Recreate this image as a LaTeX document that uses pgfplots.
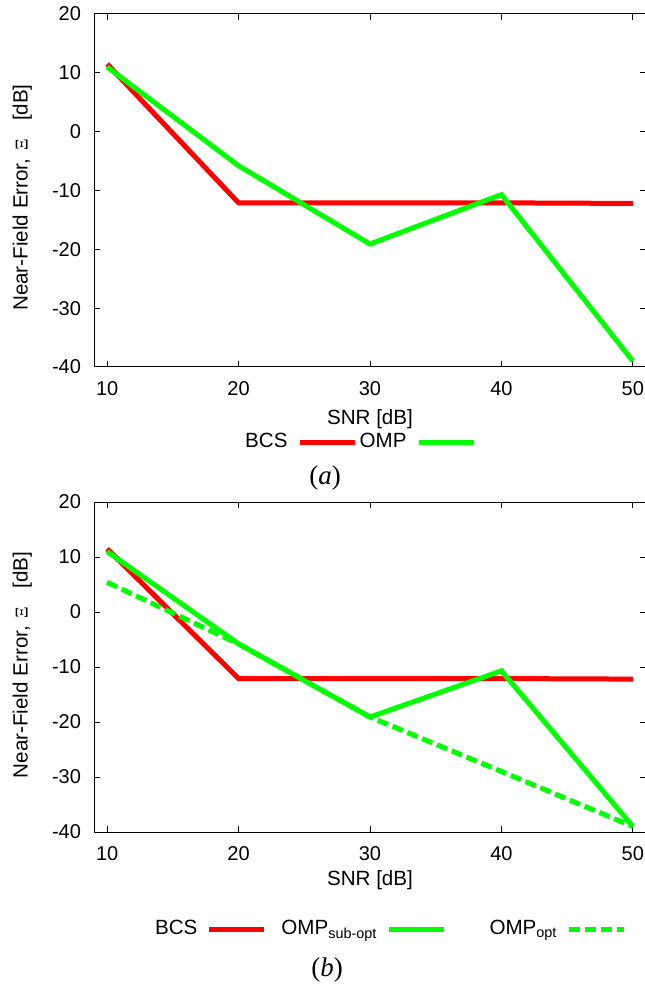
\documentclass[border=0pt]{standalone}
\usepackage{fontspec}
\setmainfont{Liberation Sans}
\newfontfamily\capfont{Liberation Serif}
\usepackage{pgfplots}
\pgfplotsset{compat=1.18}

\definecolor{bcsred}{RGB}{255,0,0}
\definecolor{ompgreen}{RGB}{0,255,0}

\newcommand{\tickfont}{\fontsize{10}{11}\selectfont}
\newcommand{\lblfont}{\fontsize{10.3}{11}\selectfont}
% y-axis title
\newcommand{\errlabel}{Near-Field Error,\hspace{4pt}{\capfont\fontsize{9}{10}\selectfont Ξ}\hspace{9pt}[dB]}
% right-aligned legend text followed by the gap before the sample line
\newcommand{\legtext}[2]{\makebox[#1][r]{#2\hspace{4.75pt}}}

\pgfplotsset{
  snrstyle/.style={
    scale only axis, width=276pt,
    xmin=9, xmax=51, ymin=-40, ymax=20,
    xtick={10,20,30,40,50}, ytick={-40,-30,-20,-10,0,10,20},
    tick align=inside, major tick length=3pt,
    axis line style={line width=0.5pt},
    every tick/.style={black, line width=0.5pt},
    /pgf/number format/assume math mode=true,
    tick label style={font=\tickfont},
    x tick label style={yshift=-3.5pt},
    y tick label style={xshift=-3pt},
    label style={font=\lblfont},
    xlabel={SNR [dB]},
    ylabel={\errlabel},
    legend plot pos=right, legend columns=-1,
    legend style={draw=none, fill=none, inner sep=0pt, outer sep=0pt,
      column sep=0pt, anchor=west, nodes={inner sep=0pt, font=\lblfont}},
    legend image code/.code={
      \draw[##1] (0pt,0pt) -- (27.5pt,0pt);},
  },
  bcs/.style={color=bcsred, line width=2.5pt},
  omp/.style={color=ompgreen, line width=2.5pt},
  ompopt/.style={color=ompgreen, line width=2.5pt, dash pattern=on 5.5pt off 2.5pt},
}

\begin{document}
\begin{tikzpicture}
% (a) BCS against OMP
\begin{axis}[snrstyle, at={(47pt,309pt)}, anchor=south west, height=176.5pt,
    y label style={at={(axis description cs:-0.130,0.48)}, anchor=center},
    x label style={at={(axis description cs:0.5,-0.147)}, anchor=center},
    legend style={at={(0.261,-0.2125)}}]
  \addplot[bcs] coordinates {(10,11.5) (20,-12.1) (30,-12.1) (40,-12.1) (50,-12.2)};
  \addlegendentry{\legtext{29.5pt}{BCS}}
  \addplot[omp] coordinates {(10,11.0) (20,-5.8) (30,-19.1) (40,-10.7) (50,-39.0)};
  \addlegendentry{\legtext{29.5pt}{OMP}}
\end{axis}
\node[font=\capfont\fontsize{13.5}{15}\selectfont] at (162.5pt,253.5pt) {(\textit{a})};

% (b) BCS against sub-optimal and optimal OMP
\begin{axis}[snrstyle, at={(47pt,76.5pt)}, anchor=south west, height=165pt,
    y label style={at={(axis description cs:-0.130,0.506)}, anchor=center},
    x label style={at={(axis description cs:0.5,-0.145)}, anchor=center},
    legend style={at={(-0.0127,-0.294)}}]
  \addplot[bcs] coordinates {(10,11.5) (20,-12.1) (30,-12.1) (40,-12.1) (50,-12.2)};
  \addlegendentry{\legtext{60pt}{BCS}}
  \addplot[omp] coordinates {(10,11.0) (20,-5.8) (30,-19.1) (40,-10.7) (50,-39.0)};
  \addlegendentry{\legtext{60pt}{OMP\textsubscript{sub-opt}}}
  \addplot[ompopt] coordinates {(10,5.4) (20,-5.8) (30,-19.1) (40,-29.0) (50,-39.0)};
  \addlegendentry{\legtext{60pt}{OMP\textsubscript{opt}}}
\end{axis}
\node[font=\capfont\fontsize{13.5}{15}\selectfont] at (163.5pt,7.5pt) {(\textit{b})};

\pgfresetboundingbox
\useasboundingbox (0pt,0pt) rectangle (322pt,492.5pt);
\end{tikzpicture}
\end{document}
